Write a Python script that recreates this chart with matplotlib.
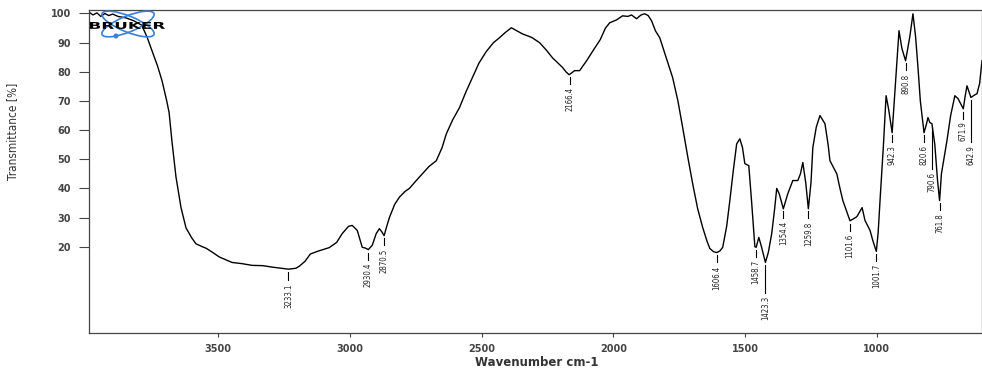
import numpy as np
import matplotlib

matplotlib.use("Agg")
import matplotlib.pyplot as plt
from matplotlib.patches import Ellipse, Circle, PathPatch
from matplotlib.textpath import TextPath
from matplotlib.font_manager import FontProperties
from matplotlib.transforms import IdentityTransform, Affine2D

# IR spectrum (wavenumber cm-1, transmittance %)
wn = [3990, 3975, 3960, 3945, 3930, 3915, 3900, 3880, 3850, 3820, 3790, 3770,
      3750, 3730, 3713, 3695, 3686, 3675, 3660, 3641, 3622, 3600, 3584, 3560,
      3546, 3520, 3496, 3470, 3447, 3410, 3371, 3330, 3295, 3260, 3233, 3205,
      3192, 3170, 3150, 3120, 3078, 3050, 3029, 3005, 2991, 2972, 2953, 2940,
      2930, 2915, 2900, 2888, 2878, 2870, 2860, 2850, 2830, 2812, 2790, 2774,
      2750, 2725, 2700, 2672, 2650, 2634, 2610, 2584, 2560, 2535, 2510, 2482,
      2455, 2432, 2410, 2387, 2365, 2345, 2310, 2280, 2255, 2231, 2210, 2193,
      2180, 2168, 2160, 2147, 2128, 2100, 2079, 2050, 2030, 2014, 1988, 1965,
      1945, 1931, 1912, 1895, 1881, 1868, 1855, 1840, 1824, 1800, 1775, 1755,
      1737, 1718, 1699, 1680, 1661, 1645, 1634, 1620, 1607, 1595, 1585, 1570,
      1558, 1545, 1532, 1520, 1510, 1501, 1486, 1475, 1463, 1458, 1448, 1438,
      1423, 1412, 1399, 1388, 1380, 1370, 1355, 1345, 1338, 1319, 1300, 1290,
      1281, 1270, 1260, 1250, 1243, 1230, 1216, 1197, 1185, 1178, 1152, 1140,
      1129, 1102, 1090, 1076, 1056, 1045, 1026, 1015, 1002, 995, 988, 975,
      965, 955, 942, 930, 916, 905, 891, 875, 863, 853, 844, 835,
      821, 812, 806, 799, 791, 780, 770, 762, 755, 734, 720, 704,
      692, 672, 666, 658, 643, 630, 620, 610, 601]
trans = [100.5, 99.5, 100.2, 99.0, 100.0, 99.3, 99.8, 99.0, 98.5, 97.5, 96.0, 92.0,
         87.0, 82.0, 77.0, 70.0, 66.0, 56.0, 44.0, 33.5, 26.5, 23.0, 21.0, 20.0,
         19.5, 18.0, 16.5, 15.5, 14.6, 14.2, 13.6, 13.5, 13.0, 12.6, 12.3, 12.6,
         13.3, 15.0, 17.5, 18.5, 19.7, 21.5, 24.5, 27.0, 27.3, 25.6, 19.8, 19.5,
         19.0, 20.5, 24.5, 26.2, 25.0, 23.8, 27.0, 30.0, 34.5, 37.0, 39.0, 40.0,
         42.5, 45.0, 47.5, 49.5, 54.0, 58.7, 63.5, 67.7, 73.0, 78.0, 83.0, 87.0,
         90.0, 91.7, 93.5, 95.1, 94.0, 93.0, 91.8, 90.0, 87.5, 84.8, 83.0, 81.5,
         80.0, 79.0, 79.5, 80.4, 80.4, 84.0, 87.0, 91.0, 95.0, 96.8, 97.8, 99.2,
         99.0, 99.5, 98.2, 99.5, 99.9, 99.3, 97.5, 94.0, 91.7, 85.0, 78.0, 70.0,
         60.9, 51.0, 41.6, 33.0, 26.6, 22.0, 19.4, 18.3, 18.0, 18.6, 19.8, 27.0,
         35.8, 46.0, 55.3, 57.0, 54.0, 48.5, 47.8, 35.0, 20.0, 19.8, 23.2, 20.0,
         14.6, 18.0, 24.5, 33.0, 40.0, 38.0, 33.0, 36.0, 38.2, 42.7, 42.7, 45.0,
         48.9, 42.0, 33.0, 42.0, 54.0, 61.0, 65.0, 62.2, 55.0, 49.5, 45.0, 40.0,
         35.8, 28.9, 29.5, 30.3, 33.4, 29.0, 25.6, 22.0, 18.4, 25.0, 35.8, 55.0,
         71.8, 67.0, 59.1, 75.0, 94.1, 88.0, 83.8, 92.0, 99.9, 92.0, 81.5, 70.0,
         59.1, 62.0, 64.3, 62.6, 62.2, 55.0, 43.0, 35.8, 45.0, 56.4, 65.0, 71.8,
         70.8, 67.3, 71.0, 75.2, 71.2, 72.0, 72.5, 76.0, 83.8]

# picked peaks and their labels
peak_wn = [3233.1, 2930.4, 2870.5, 2166.4, 1606.4, 1458.7, 1423.3, 1354.4,
           1259.8, 1101.6, 1001.7, 942.3, 890.8, 820.6, 790.6, 761.8, 671.9, 642.9]
peak_lbl = ["3233.1", "2930.4", "2870.5", "2166.4", "1606.4", "1458.7", "1423.3",
            "1354.4", "1259.8", "1101.6", "1001.7", "942.3", "890.8", "820.6",
            "790.6", "761.8", "671.9", "642.9"]
# lead line length in pixels (most are short, a few are pulled down)
lead_px = [8, 7, 7, 7, 7, 7, 28, 7, 7, 7, 7, 7, 7, 7, 42, 7, 7, 42]

XLIM = (3990, 601)
YLIM = (-9.6, 101.2)
H = 370

fig = plt.figure(figsize=(9.82, 3.70), dpi=100)
ax = fig.add_axes([89 / 982, 37 / H, 893 / 982, 323 / H])
ax.plot(wn, trans, color="black", lw=1.0)
ax.set_xlim(*XLIM)
ax.set_ylim(*YLIM)

px = (YLIM[1] - YLIM[0]) / 323.0
narrow = ["Liberation Sans Narrow", "DejaVu Sans"]
for w, lab, lead in zip(peak_wn, peak_lbl, lead_px):
    t = np.interp(w, wn[::-1], trans[::-1])
    y0 = t - 3 * px
    y1 = y0 - lead * px
    ax.plot([w, w], [y0, y1], color="black", lw=0.8)
    ax.text(w, y1 - 3 * px, lab, rotation=90, ha="center", va="top",
            fontsize=5.6, family=narrow, fontstretch="condensed", color="#222222")

ax.set_yticks([20, 30, 40, 50, 60, 70, 80, 90, 100])
ax.set_xticks([3500, 3000, 2500, 2000, 1500, 1000])
ax.tick_params(axis="y", direction="out", length=7, width=0.8, pad=6,
               labelsize=7, colors="#444444")
ax.tick_params(axis="x", direction="out", length=3, width=0.8, pad=5,
               labelsize=7, colors="#444444")
for lbl in ax.get_xticklabels() + ax.get_yticklabels():
    lbl.set_fontweight("bold")
for s in ax.spines.values():
    s.set_color("#444444")
    s.set_linewidth(0.9)
fig.text(13 / 982, 1 - 131 / H, "Transmittance [%]", rotation=90, family=narrow,
         fontstretch="condensed", fontsize=8.5, color="#333333",
         ha="center", va="center")
fig.text(537 / 982, 1 - 362 / H, "Wavenumber cm-1", fontsize=8.5,
         fontweight="bold", color="#333333", ha="center", va="center")

# Bruker logo in the top-left corner (pixel coords)
blue = "#3a80d8"
for ang in (22, -22):
    fig.patches.append(Ellipse((128, H - 24), 56, 16, angle=ang, fill=False,
                               edgecolor=blue, lw=1.2, transform=IdentityTransform()))
fig.patches.append(Circle((116, H - 36), 1.8, color=blue, transform=IdentityTransform()))
tp = TextPath((0, 0), "BRUKER", size=10, prop=FontProperties(family="DejaVu Sans",
                                                              weight="bold"))
bb = tp.get_extents()
stretch = Affine2D().translate(-bb.x0, -bb.y0).scale(75 / bb.width, 7 / bb.height) \
    .translate(90, H - 29)
fig.patches.append(PathPatch(tp, transform=stretch, facecolor="black",
                             edgecolor="none"))

fig.savefig("out.png", dpi=100)
